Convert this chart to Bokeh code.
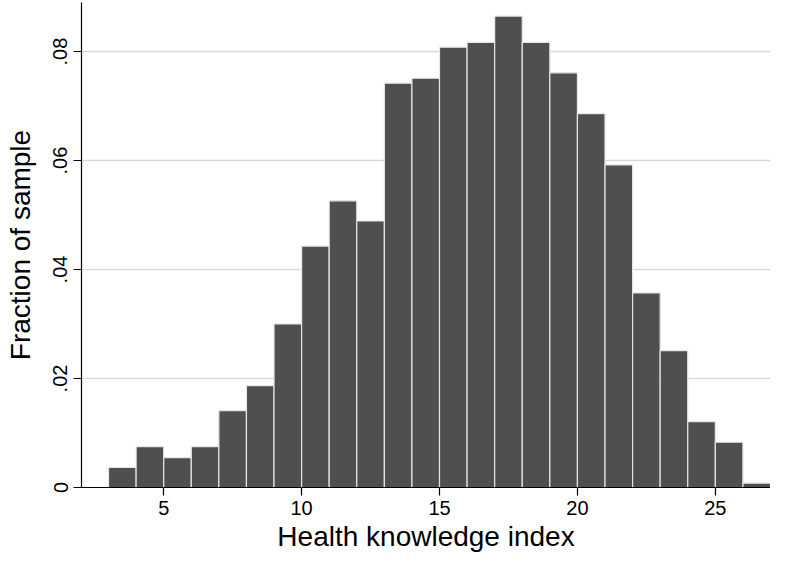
from bokeh.plotting import figure
from bokeh.models import ColumnDataSource, Range1d, FixedTicker
from bokeh.embed import file_html
from bokeh.resources import INLINE

bin_left = [3, 4, 5, 6, 7, 8, 9, 10, 11, 12, 13, 14, 15, 16, 17, 18, 19, 20, 21, 22, 23, 24, 25, 26]
fraction = [0.0037, 0.0075, 0.0055, 0.0075, 0.0141, 0.0187, 0.0300, 0.0443, 0.0526, 0.0489,
            0.0742, 0.0751, 0.0808, 0.0817, 0.0865, 0.0817, 0.0761, 0.0686, 0.0592, 0.0357,
            0.0251, 0.0121, 0.0083, 0.0008]
bin_right = [b + 1 for b in bin_left]
x_ticks = [5, 10, 15, 20, 25]
y_ticks = [0, 0.02, 0.04, 0.06, 0.08]
y_tick_labels = {0: "0", 0.02: ".02", 0.04: ".04", 0.06: ".06", 0.08: ".08"}

src = ColumnDataSource(dict(left=bin_left, right=bin_right, top=fraction, bottom=[0] * len(fraction)))

p = figure(width=770, height=554, output_backend="svg", toolbar_location=None,
           x_range=Range1d(2.02, 27.0), y_range=Range1d(0, 0.089),
           min_border_left=81, min_border_right=0, min_border_top=2, min_border_bottom=67)
p.outline_line_color = None
p.background_fill_color = "white"
p.border_fill_color = "white"

p.quad(left="left", right="right", top="top", bottom="bottom", source=src,
       fill_color="#4f4f4f", line_color="#e6e6e6", line_width=1.2)

FONT = "Liberation Sans"

p.xgrid.grid_line_color = None
p.ygrid.grid_line_color = "#d9d9d9"
p.ygrid.grid_line_width = 1.5
p.ygrid.ticker = FixedTicker(ticks=y_ticks)

p.xaxis.ticker = FixedTicker(ticks=x_ticks)
p.yaxis.ticker = FixedTicker(ticks=y_ticks)
p.yaxis.major_label_overrides = y_tick_labels
p.yaxis.major_label_orientation = "vertical"

for ax in (p.xaxis, p.yaxis):
    ax.axis_line_color = "black"
    ax.axis_line_width = 1.2
    ax.major_tick_line_color = "black"
    ax.major_tick_line_width = 1.2
    ax.major_tick_out = 8
    ax.major_tick_in = 0
    ax.minor_tick_line_color = None
    ax.major_label_text_font = FONT
    ax.major_label_text_font_size = "20px"
    ax.major_label_text_color = "black"
    ax.axis_label_text_font = FONT
    ax.axis_label_text_font_size = "28px"
    ax.axis_label_text_font_style = "normal"
    ax.axis_label_text_color = "black"

p.xaxis.major_label_standoff = 5
p.yaxis.major_label_standoff = 6
p.xaxis.axis_label = "Health knowledge index"
p.yaxis.axis_label = "Fraction of sample"
p.xaxis.axis_label_standoff = 3
p.yaxis.axis_label_standoff = 15

open("out.html", "w").write(file_html(p, INLINE))
